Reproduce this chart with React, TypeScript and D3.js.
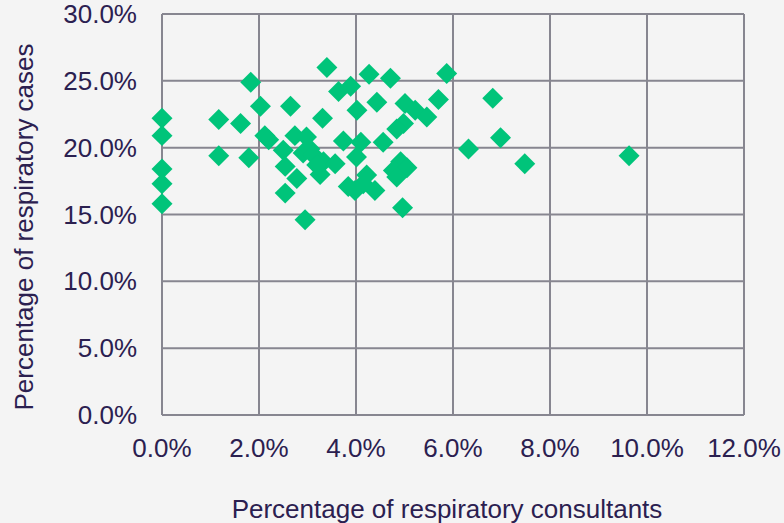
import React, { useEffect, useRef } from 'react';
import * as d3 from 'd3';

// percentage of respiratory consultants (x) vs respiratory cases (y)
const consultants = [
  0, 0, 0, 0, 0,
  1.17, 1.17, 1.62, 1.79, 1.83, 2.03, 2.12, 2.2, 2.65, 3.31, 3.4,
  2.5, 2.54, 2.54, 2.74, 2.78, 2.98, 2.91, 2.95, 3.05, 3.12, 3.26, 3.33,
  3.19, 3.57, 3.74, 3.84, 3.98, 4.01, 4.1, 4.02, 3.64, 3.89, 4.27, 4.71,
  5.87, 4.43, 5.01, 5.22, 5.46, 5.7, 4.98, 4.84, 4.56, 4.92, 4.77, 5.05,
  4.84, 4.39, 4.22, 4.15, 4.96, 6.82, 6.98, 6.32, 7.48, 9.63,
];
const cases = [
  22.2, 20.9, 18.4, 17.3, 15.8,
  22.1, 19.4, 21.8, 19.25, 24.9, 23.1, 20.9, 20.6, 23.1, 22.2, 26.0,
  19.8, 18.6, 16.6, 20.9, 17.7, 20.8, 19.6, 14.6, 19.9, 19.45, 18.0, 18.95,
  18.7, 18.8, 20.5, 17.1, 16.8, 19.3, 20.4, 22.8, 24.2, 24.6, 25.5, 25.2,
  25.55, 23.4, 23.3, 22.8, 22.3, 23.6, 21.8, 21.4, 20.4, 18.95, 18.3, 18.5,
  17.8, 16.8, 17.95, 17.3, 15.5, 23.7, 20.75, 19.9, 18.8, 19.4,
];

const xTicks = [0, 2, 4, 6, 8, 10, 12];
const yTicks = [0, 5, 10, 15, 20, 25, 30];

const App: React.FC = () => {
  const svgRef = useRef<SVGSVGElement>(null);

  useEffect(() => {
    document.body.style.margin = '0';
    if (!svgRef.current) return;
    const svg = d3.select(svgRef.current);
    svg.selectAll('*').remove();

    const W = 784, H = 523;
    const left = 162, right = 744, top = 14, bottom = 415;
    const textColor = '#2b2050';
    const gridColor = '#878690';
    const font = '"Liberation Sans", Arial, sans-serif';
    const fs = 26;

    const x = d3.scaleLinear().domain([0, 12]).range([left, right]);
    const y = d3.scaleLinear().domain([0, 30]).range([bottom, top]);

    svg.attr('width', W).attr('height', H);
    svg.append('rect').attr('width', W).attr('height', H).attr('fill', '#f4f4f4');

    // grid
    svg.selectAll('.gx').data(xTicks).enter().append('line')
      .attr('x1', d => x(d)).attr('x2', d => x(d))
      .attr('y1', top).attr('y2', bottom)
      .attr('stroke', gridColor).attr('stroke-width', 2);
    svg.selectAll('.gy').data(yTicks).enter().append('line')
      .attr('x1', left).attr('x2', right)
      .attr('y1', d => y(d)).attr('y2', d => y(d))
      .attr('stroke', gridColor).attr('stroke-width', 2);

    // tick labels
    svg.selectAll('.tx').data(xTicks).enter().append('text')
      .attr('x', d => x(d)).attr('y', 457)
      .attr('text-anchor', 'middle')
      .attr('font-family', font).attr('font-size', fs).attr('fill', textColor)
      .text(d => d.toFixed(1) + '%');
    svg.selectAll('.ty').data(yTicks).enter().append('text')
      .attr('x', 137).attr('y', d => y(d) + 9)
      .attr('text-anchor', 'end')
      .attr('font-family', font).attr('font-size', fs).attr('fill', textColor)
      .text(d => d.toFixed(1) + '%');

    // axis titles
    svg.append('text')
      .attr('x', 447).attr('y', 518)
      .attr('text-anchor', 'middle')
      .attr('font-family', font).attr('font-size', fs).attr('fill', textColor)
      .text('Percentage of respiratory consultants');
    svg.append('text')
      .attr('transform', `translate(33,227) rotate(-90)`)
      .attr('text-anchor', 'middle')
      .attr('font-family', font).attr('font-size', fs).attr('fill', textColor)
      .text('Percentage of respiratory cases');

    // points
    const diamond = d3.symbol().type(d3.symbolSquare).size(220);
    svg.selectAll('.pt').data(consultants).enter().append('path')
      .attr('d', diamond)
      .attr('transform', (d, i) => `translate(${x(d)},${y(cases[i])}) rotate(45)`)
      .attr('fill', '#00c47a');
  }, []);

  return <svg ref={svgRef} style={{ display: 'block' }}></svg>;
};

export default App;
